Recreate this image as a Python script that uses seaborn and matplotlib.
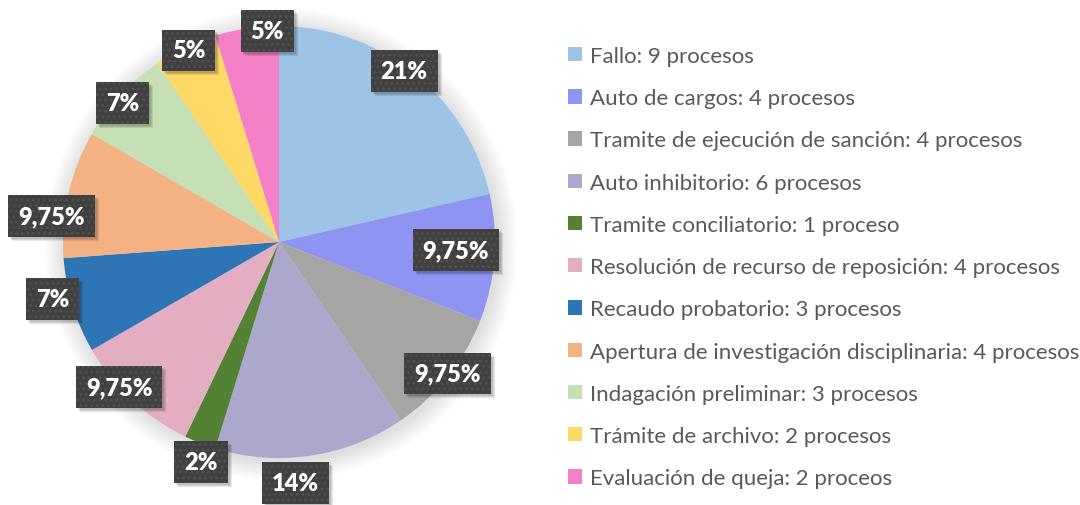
import numpy as np
import matplotlib
matplotlib.use("Agg")
import matplotlib.pyplot as plt
from matplotlib.patches import Circle, Rectangle
from matplotlib.transforms import IdentityTransform
import seaborn as sns

# Process counts per stage
categories = [
    "Fallo: 9 procesos",
    "Auto de cargos: 4 procesos",
    "Tramite de ejecución de sanción: 4 procesos",
    "Auto inhibitorio: 6 procesos",
    "Tramite conciliatorio: 1 proceso",
    "Resolución de recurso de reposición: 4 procesos",
    "Recaudo probatorio: 3 procesos",
    "Apertura de investigación disciplinaria: 4 procesos",
    "Indagación preliminar: 3 procesos",
    "Trámite de archivo: 2 procesos",
    "Evaluación de queja: 2 proceos",
]
counts = [9, 4, 4, 6, 1, 4, 3, 4, 3, 2, 2]
pct_labels = ["21%", "9,75%", "9,75%", "14%", "2%", "9,75%", "7%", "9,75%", "7%", "5%", "5%"]

hex_colors = ["#9DC3E6", "#8F93F2", "#A5A5A5", "#ABA7CD", "#548235", "#E3ADC2",
              "#2E75B6", "#F4B183", "#C5E0B4", "#FFD966", "#F481C8"]

# label placement: radial distance (in radii) and angular nudge (deg, clockwise)
label_radius = [0.98, 0.82, 0.99, 1.12, 1.08, 1.00, 1.08, 1.06, 0.97, 0.98, 0.98]
label_nudge = [-2.3, -1.7, -0.6, 4.6, -1.9, 4.9, 3.1, -6.4, -1.2, 0.5, 5.4]

sns.set_theme(style="white")
plt.rcParams["font.family"] = ["Lato", "DejaVu Sans"]
plt.rcParams["hatch.linewidth"] = 1.2
palette = sns.color_palette(hex_colors)

W, H = 1080, 506
fig = plt.figure(figsize=(W / 100, H / 100), dpi=100)
fig.patch.set_facecolor("white")

# pie axes: centre at (279, 243) px, radius 216 px
cx, cy, R = 279, 243, 216
ax_w = 560
ax = fig.add_axes([0, 0, ax_w / W, 1])
ax.set_facecolor("none")

# soft shadow behind the pie
for k in range(16):
    r = 1.0 + 0.006 * (k + 1)
    ax.add_patch(Circle((0.01, -0.012), r, facecolor="#000000", alpha=0.009,
                        edgecolor="none", zorder=0))

wedges, _ = ax.pie(counts, colors=palette, startangle=90, counterclock=False,
                   radius=1.0, wedgeprops=dict(linewidth=0), frame=False)
for w in wedges:
    w.set_zorder(2)

ax.set_xlim(-cx / R, (ax_w - cx) / R)
ax.set_ylim((cy - H) / R, cy / R)
ax.set_aspect("auto")
ax.axis("off")

# data labels in dark dotted boxes
total = sum(counts)
start = 0.0
labels = []
for i, c in enumerate(counts):
    span = 360.0 * c / total
    mid = start + span / 2 + label_nudge[i]
    start += span
    theta = np.deg2rad(90 - mid)
    x = label_radius[i] * np.cos(theta)
    y = label_radius[i] * np.sin(theta)
    t = ax.text(x, y, pct_labels[i], ha="center", va="center", color="white",
                fontsize=17, fontweight="heavy", zorder=5,
                bbox=dict(boxstyle="square,pad=0.42", facecolor="#404040",
                          edgecolor="#505050", linewidth=0, hatch="..."))
    labels.append(t)

leg = fig.legend(wedges, categories, loc="upper left",
                 bbox_to_anchor=(568 / W, 1 - 47 / H), frameon=False,
                 fontsize=16, handlelength=0.62, handleheight=0.62,
                 handletextpad=0.35, labelspacing=1.0, borderpad=0,
                 borderaxespad=0)
for txt in leg.get_texts():
    txt.set_color("#595959")

# soft drop shadow under each label box, sized from the rendered boxes
fig.canvas.draw()
for t in labels:
    bb = t.get_bbox_patch().get_window_extent()
    for off in (2, 3, 4):
        ax.add_patch(Rectangle((bb.x0 + off, bb.y0 - off), bb.width, bb.height,
                               transform=IdentityTransform(), facecolor="#000000",
                               alpha=0.09, linewidth=0, zorder=4))

fig.savefig("out.png", dpi=100, facecolor="white")
